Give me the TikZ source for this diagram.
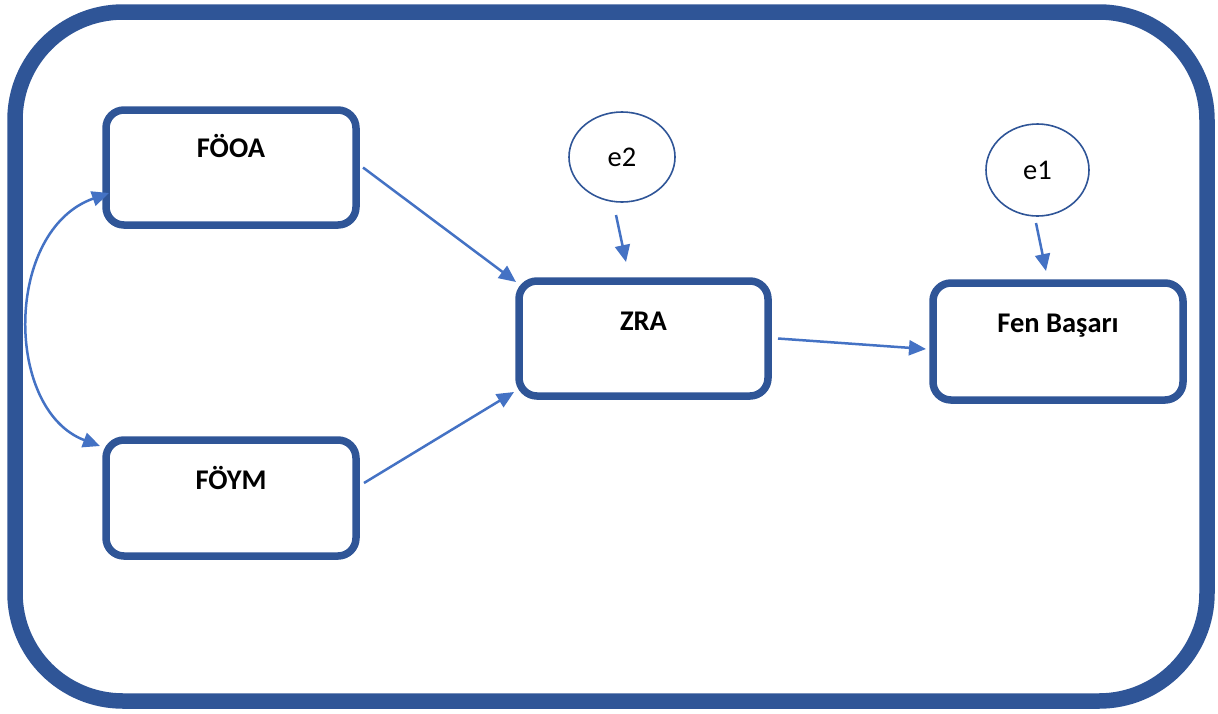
\documentclass[tikz,border=0pt]{standalone}
\usepackage{fontspec}
\setmainfont{Carlito}
\usetikzlibrary{shapes.geometric,arrows.meta}
\definecolor{framecol}{HTML}{2F5597}
\definecolor{arrowcol}{HTML}{4472C4}
\tikzset{
  varbox/.style={draw=framecol, line width=7.5pt, rounded corners=18pt,
    minimum width=250pt, minimum height=115pt, inner sep=0pt, outer sep=0pt},
  boxtext/.style={anchor=base, inner sep=0pt, font=\fontsize{28.5}{34}\selectfont\bfseries},
  errnode/.style={draw=framecol, line width=1.6pt, ellipse, inner sep=0pt, outer sep=0pt,
    font=\fontsize{28.5}{34}\selectfont},
  path/.style={draw=arrowcol, line width=2.5pt, -{Triangle[length=17pt,width=15pt]}},
  covpath/.style={draw=arrowcol, line width=2.5pt,
    {Triangle[length=17pt,width=15pt]}-{Triangle[length=17pt,width=15pt]}}
}
\begin{document}
\begin{tikzpicture}[x=1pt, y=-1pt]
  \useasboundingbox (0,0) rectangle (1218,713);
  % outer frame
  \draw[framecol, line width=15.5pt, rounded corners=108pt] (15,12) rectangle (1207,701);

  % observed variables
  \node[varbox] (fooa) at (231,167.5) {};
  \node[varbox, minimum height=116pt] (foym) at (231,498) {};
  \node[varbox, minimum width=249pt] (zra) at (643.5,338.5) {};
  \node[varbox, minimum height=117pt] (fen) at (1058,341.5) {};

  % their titles, set near the top edge
  \node[boxtext] (fooa-t) at ([yshift=10.5pt]fooa.center) {FÖOA};
  \node[boxtext] (foym-t) at ([yshift=9pt]foym.center) {FÖYM};
  \node[boxtext] (zra-t) at ([yshift=8.5pt]zra.center) {ZRA};
  \node[boxtext] (fen-t) at ([yshift=9.5pt]fen.center) {Fen Başarı};

  % error terms
  \node[errnode, minimum width=106pt, minimum height=90pt] (e2) at (622,157) {e2};
  \node[errnode, minimum width=103pt, minimum height=92pt] (e1) at (1037.5,170) {e1};

  % paths
  \draw[path] ([xshift=7pt]fooa.east) -- ([xshift=-3pt,yshift=-1pt]zra.north west);
  \draw[path] ([xshift=8pt,yshift=15pt]foym.east) -- ([xshift=-5pt,yshift=4pt]zra.south west);
  \draw[path] ([xshift=10pt]zra.east) -- ([xshift=-7pt,yshift=-7.5pt]fen.west);
  \draw[path] ([xshift=-6pt,yshift=-13pt]e2.south) -- ([xshift=-17.5pt,yshift=19pt]zra.north);
  \draw[path] ([xshift=-1.5pt,yshift=-7pt]e1.south) -- ([xshift=-12pt,yshift=12pt]fen.north);

  % covariance between FÖOA and FÖYM
  \draw[covpath] ([xshift=3pt,yshift=-25.5pt]fooa.west)
    .. controls (4,230) and (4,410) .. ([xshift=-6pt,yshift=-6pt]foym.north west);
\end{tikzpicture}
\end{document}
